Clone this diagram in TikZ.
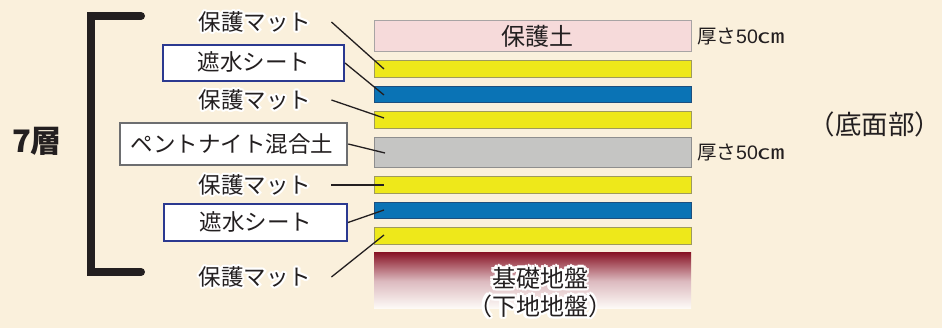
\documentclass[tikz,border=0pt]{standalone}
\usepackage{fontspec}
\setmainfont{Noto Sans CJK JP}
\newfontfamily\latinfnt{Liberation Sans}
\usetikzlibrary{calc}
\definecolor{bg}{HTML}{FAF0DC}
\definecolor{ink}{HTML}{231F20}
\definecolor{matY}{HTML}{EEE81A}
\definecolor{matYb}{HTML}{9E9A5E}
\definecolor{sheetB}{HTML}{0A73B5}
\definecolor{sheetBb}{HTML}{1D4F7E}
\definecolor{soilP}{HTML}{F6DADA}
\definecolor{soilPb}{HTML}{A8A4A4}
\definecolor{bentG}{HTML}{C5C5C3}
\definecolor{bentGb}{HTML}{8E8E8E}
\definecolor{boxBlue}{HTML}{2B3990}
\definecolor{boxGray}{HTML}{6D6E70}
\definecolor{baseR}{HTML}{8A1728}
\newcommand\halotext[4]{%
  \foreach \hang in {0,30,...,330} {\node[#1,text=white] at ($(#2)+(\hang:2.4)$) {#4};}
  \node[#1] (#3) at (#2) {#4};}
\newcommand\thk{厚さ{\latinfnt 50}\scalebox{1.4}[1]{㎝}}
\begin{document}
\begin{tikzpicture}[x=1pt,y=-1pt,
  lbl/.style={text=ink,inner sep=0pt,font=\fontsize{22.5}{24}\selectfont},
  big/.style={text=ink,inner sep=0pt,font=\fontsize{24}{26}\selectfont},
  thick/.style={text=ink,inner sep=0pt,font=\fontsize{19.5}{21}\selectfont},
  layer/.style={draw,line width=1.2pt,inner sep=0pt,anchor=north west,minimum width=317pt},
  namebox/.style={draw,fill=white,line width=2pt,inner sep=0pt},
  conn/.style={draw=ink,line width=1.3pt}]
\path[fill=bg,use as bounding box] (0,0) rectangle (942,328);
% bracket
\draw[ink,line width=8pt,line cap=round,line join=miter] (141,16) -- (91,16) -- (91,272) -- (141,272);
\node[text=ink,inner sep=0pt,font=\fontsize{31}{33}\selectfont\bfseries] (seven) at (37,141) {7層};
% layers
\node[layer,draw=soilPb,fill=soilP,minimum height=31pt] (soil) at (374,20) {};
\node[big] (soilt) at (537,36) {保護土};
\node[layer,draw=matYb,fill=matY,minimum height=17pt] (y1) at (374,60) {};
\node[layer,draw=sheetBb,fill=sheetB,minimum height=16pt] (b1) at (374,86) {};
\node[layer,draw=matYb,fill=matY,minimum height=17pt] (y2) at (374,111) {};
\node[layer,draw=bentGb,fill=bentG,minimum height=30pt] (gr) at (374,137) {};
\node[layer,draw=matYb,fill=matY,minimum height=17pt] (y3) at (374,176) {};
\node[layer,draw=sheetBb,fill=sheetB,minimum height=16pt] (b2) at (374,202) {};
\node[layer,draw=matYb,fill=matY,minimum height=17pt] (y4) at (374,227) {};
\shade[top color=baseR,bottom color=white!80!bg,middle color=baseR!30!white] (374,253) rectangle (691,309);
\halotext{big}{540,278}{base1}{基礎地盤}
\halotext{big}{540,306}{base2}{（下地地盤）}
% thickness labels
\node[thick,anchor=west] (t1) at (697,37) {\thk};
\node[thick,anchor=west] (t2) at (697,153) {\thk};
\node[text=ink,inner sep=0pt,font=\fontsize{26.5}{28}\selectfont] (part) at (875,124) {（底面部）};
% labels
\halotext{lbl}{255,22}{m1}{保護マット}
\node[namebox,draw=boxBlue,minimum width=181pt,minimum height=36pt] (s1) at (253.5,63) {};
\node[lbl] (s1t) at (254,62) {遮水シート};
\halotext{lbl}{255,100}{m2}{保護マット}
\node[namebox,draw=boxGray,line width=2.5pt,minimum width=227pt,minimum height=42pt] (bt) at (233.5,144) {};
\node[lbl] (btt) at (232,144) {ペントナイト混合土};
\halotext{lbl}{255,185}{m3}{保護マット}
\node[namebox,draw=boxBlue,minimum width=183pt,minimum height=37pt] (s2) at (255.5,222.5) {};
\node[lbl] (s2t) at (256,222) {遮水シート};
\halotext{lbl}{255,277}{m4}{保護マット}
% connector ends
\coordinate (e1) at (384,69);
\coordinate (e2) at (384,95);
\coordinate (e3) at (384,118);
\coordinate (e4) at (385,153);
\coordinate (e5) at (384,185);
\coordinate (e6) at (384,210);
\coordinate (e7) at (384,235);
\draw[conn] ([xshift=20pt]m1.east) -- (e1);
\draw[conn] (s1.east) -- (e2);
\draw[conn] ([xshift=20pt]m2.east) -- (e3);
\draw[conn] (bt.east) -- (e4);
\draw[conn] ([xshift=20pt]m3.east) -- (e5);
\draw[conn] (s2.east) -- (e6);
\draw[conn] ([xshift=20pt]m4.east) -- (e7);
\end{tikzpicture}
\end{document}
